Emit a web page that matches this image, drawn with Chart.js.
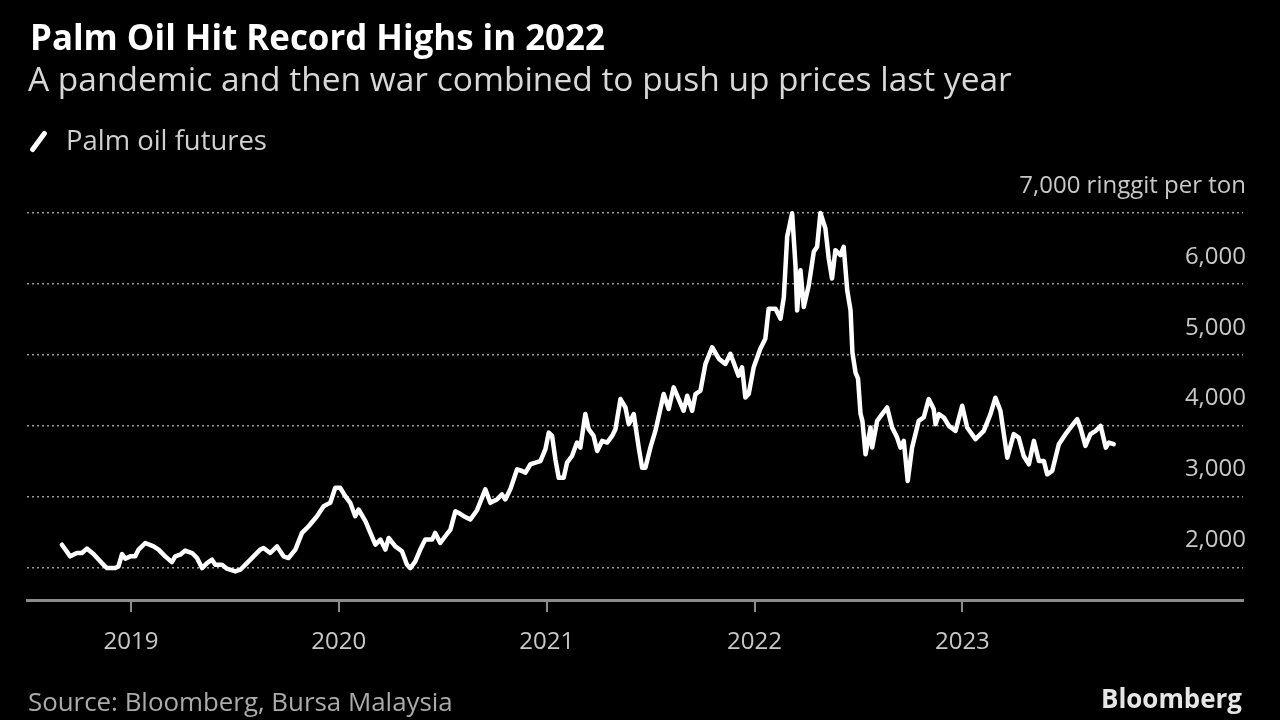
<!DOCTYPE html>
<html><head><meta charset="utf-8">
<script src="https://cdn.jsdelivr.net/npm/chart.js@4.4.0/dist/chart.umd.min.js"></script>
<style>
html,body{margin:0;padding:0;background:#000;}
#wrap{position:relative;width:1280px;height:720px;overflow:hidden;background:#000;}
canvas{position:absolute;left:0;top:0;}
.t{position:absolute;white-space:nowrap;line-height:1;font-family:"Open Sans",sans-serif;}
#icon{position:absolute;left:26px;top:139px;width:25px;height:5px;border-radius:3px;background:#fff;transform:rotate(-54deg);}
</style></head><body>
<div id="wrap">
<canvas id="c" width="1280" height="720"></canvas>
<div class="t" id="title" style="font-weight:700;color:#ffffff;">Palm Oil Hit Record Highs in 2022</div>
<div class="t" id="subtitle" style="color:#d8d8d8;">A pandemic and then war combined to push up prices last year</div>
<div id="icon"></div>
<div class="t" id="legend" style="color:#d0d0d0;">Palm oil futures</div>
<div class="t" id="source" style="color:#ababab;">Source: Bloomberg, Bursa Malaysia</div>
<div class="t" id="brand" style="font-weight:700;color:#e6e6e6;">Bloomberg</div>
</div>
<script>
const dates = [2018.668,2018.708,2018.740,2018.764,2018.788,2018.820,2018.860,2018.885,2018.924,2018.940,2018.957,2018.973,2018.997,
2019.021,2019.037,2019.069,2019.109,2019.133,2019.165,2019.197,2019.213,2019.237,2019.261,2019.294,2019.318,2019.342,2019.366,2019.390,2019.406,2019.438,2019.462,2019.502,2019.526,2019.558,2019.590,2019.622,2019.638,2019.670,2019.703,2019.734,2019.758,2019.791,2019.823,2019.855,2019.895,2019.927,2019.959,2019.983,
2020.007,2020.031,2020.055,2020.079,2020.095,2020.128,2020.152,2020.176,2020.200,2020.224,2020.240,2020.272,2020.304,2020.328,2020.344,2020.368,2020.392,2020.416,2020.449,2020.464,2020.488,2020.512,2020.537,2020.561,2020.577,2020.601,2020.633,2020.665,2020.705,2020.729,2020.761,2020.785,2020.801,2020.825,2020.858,2020.882,2020.898,2020.922,2020.946,2020.970,2020.994,
2021.010,2021.026,2021.042,2021.058,2021.082,2021.098,2021.122,2021.146,2021.162,2021.186,2021.202,2021.226,2021.243,2021.267,2021.291,2021.315,2021.331,2021.355,2021.379,2021.395,2021.419,2021.443,2021.459,2021.475,2021.499,2021.523,2021.547,2021.563,2021.587,2021.611,2021.635,2021.659,2021.676,2021.700,2021.716,2021.740,2021.764,2021.796,2021.829,2021.860,2021.884,2021.908,2021.923,2021.940,2021.956,2021.972,2021.996,
2022.028,2022.052,2022.068,2022.101,2022.125,2022.141,2022.157,2022.181,2022.197,2022.205,2022.221,2022.237,2022.261,2022.285,2022.301,2022.317,2022.341,2022.357,2022.373,2022.389,2022.413,2022.429,2022.446,2022.462,2022.471,2022.486,2022.498,2022.510,2022.519,2022.534,2022.558,2022.566,2022.590,2022.614,2022.638,2022.662,2022.686,2022.702,2022.718,2022.737,2022.758,2022.790,2022.814,2022.838,2022.862,2022.871,2022.887,2022.911,2022.935,2022.967,2022.999,
2023.023,2023.063,2023.103,2023.135,2023.159,2023.183,2023.216,2023.247,2023.271,2023.295,2023.320,2023.344,2023.368,2023.392,2023.408,2023.432,2023.464,2023.496,2023.520,2023.552,2023.568,2023.592,2023.616,2023.641,2023.665,2023.690,2023.705,2023.728];
const prices = [2320,2156,2203,2203,2265,2188,2061,1990,1990,2014,2188,2123,2156,
2156,2251,2344,2297,2251,2156,2075,2156,2180,2237,2203,2132,1990,2061,2109,2038,2038,1982,1943,1967,2061,2156,2251,2273,2203,2297,2156,2132,2251,2486,2581,2722,2864,2911,3123,
3123,3006,2911,2722,2817,2652,2486,2322,2392,2251,2415,2297,2227,2038,1990,2085,2251,2392,2392,2486,2344,2439,2534,2793,2769,2722,2676,2807,3101,2911,2959,3030,2959,3101,3384,3360,3336,3455,3477,3501,3667,
3902,3855,3525,3265,3265,3477,3572,3761,3690,4163,3950,3855,3643,3785,3761,3855,3950,4375,4256,4021,4163,3690,3406,3406,3690,3926,4234,4446,4234,4540,4375,4210,4422,4210,4446,4493,4871,5106,4942,4871,5013,4823,4705,4823,4398,4446,4823,
5084,5225,5650,5650,5508,5814,6664,6996,6263,5626,6193,5673,5980,6452,6523,7000,6783,6358,6075,6476,6405,6523,5909,5626,5031,4748,4663,4167,4068,3596,3973,3690,4068,4163,4256,3973,3831,3690,3785,3218,3690,4068,4115,4375,4234,4021,4163,4115,3997,3926,4280,
3973,3809,3926,4163,4394,4210,3548,3880,3831,3572,3455,3785,3501,3501,3313,3360,3738,3880,3973,4092,3973,3714,3880,3926,3997,3690,3761,3738];
const xTickValues = [2019, 2020, 2021, 2022, 2023];
const yTickValues = [2000, 3000, 4000, 5000, 6000, 7000];
const yUnitLabel = ' ringgit per ton';
const seriesName = 'Palm oil futures';
const xMin = 2018.5, xMax = 2024.35, yMin = 1540, yMax = 7000;

function fit(id, left, baseline, width, alignRight){
  const el = document.getElementById(id);
  el.style.fontSize = '100px';
  const w = el.getBoundingClientRect().width;
  const fs = 100 * width / w;
  el.style.fontSize = fs + 'px';
  el.style.left = (alignRight ? left - width : left) + 'px';
  el.style.top = (baseline - 0.888 * fs) + 'px';
}
fit('title', 30, 51, 575);
fit('subtitle', 28, 92, 984);
fit('legend', 66, 150, 201);
fit('source', 28, 712, 425);
fit('brand', 1242, 709, 141, true);

const ctx = document.getElementById('c').getContext('2d');
new Chart(ctx, {
  type: 'line',
  data: {
    datasets: [{
      label: seriesName,
      data: dates.map((d, i) => ({x: d, y: prices[i]})),
      borderColor: '#ffffff',
      borderWidth: 4.5,
      pointRadius: 0,
      tension: 0,
      borderJoinStyle: 'round',
      borderCapStyle: 'round',
      clip: false
    }]
  },
  options: {
    responsive: false,
    animation: false,
    layout: {padding: {left: 27, right: 37, top: 213, bottom: 0}},
    plugins: {legend: {display: false}, tooltip: {enabled: false}},
    scales: {
      x: {
        type: 'linear', min: xMin, max: xMax,
        afterFit: s => { s.height = 120; },
        afterBuildTicks: s => { s.ticks = xTickValues.map(v => ({value: v})); },
        grid: {drawOnChartArea: false, drawTicks: true, tickLength: 12, color: '#8c8c8c', lineWidth: 2},
        border: {display: true, color: '#8c8c8c', width: 3},
        ticks: {color: '#c8c8c8', font: {family: 'Open Sans', size: 24}, padding: 16, maxRotation: 0, autoSkip: false, callback: v => String(v)}
      },
      y: {
        type: 'linear', position: 'right', min: yMin, max: yMax,
        afterFit: s => { s.width = 0; },
        afterBuildTicks: s => { s.ticks = yTickValues.map(v => ({value: v})); },
        grid: {color: '#9a9a9a', lineWidth: 1.5, drawTicks: false},
        border: {display: false, dash: [2, 3]},
        ticks: {mirror: true, padding: 3, labelOffset: -27, color: '#c8c8c8', font: {family: 'Open Sans', size: 24},
          callback: v => v.toLocaleString('en-US') + (v === yMax ? yUnitLabel : '')}
      }
    }
  }
});
</script>
</body></html>
